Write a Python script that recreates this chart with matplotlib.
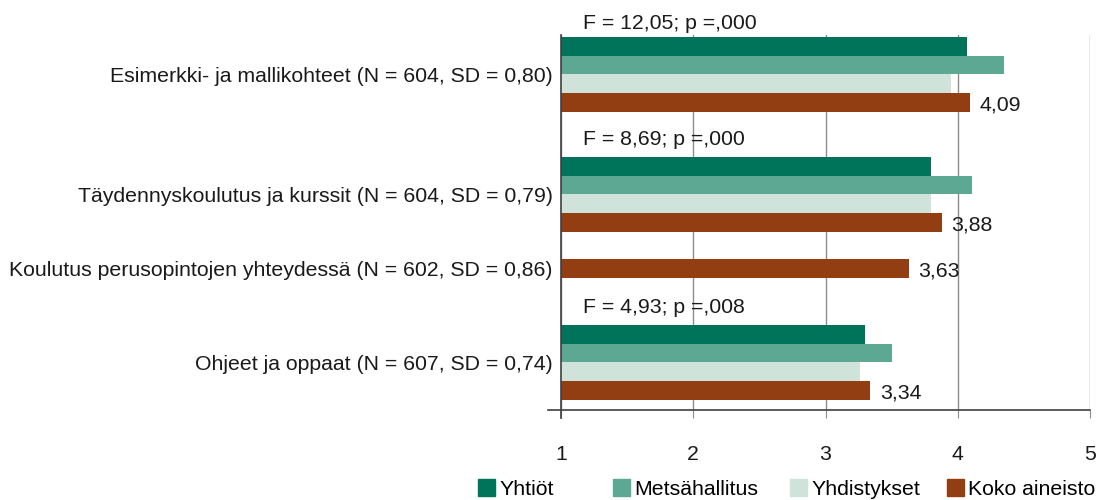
import numpy as np
import matplotlib.pyplot as plt
from matplotlib.lines import Line2D
from matplotlib.patches import Patch

plt.rcParams['font.family'] = ['Liberation Sans', 'DejaVu Sans']
plt.rcParams['font.size'] = 15.3

# data
categories = ["Esimerkki- ja mallikohteet (N = 604, SD = 0,80)",
              "Täydennyskoulutus ja kurssit (N = 604, SD = 0,79)",
              "Koulutus perusopintojen yhteydessä (N = 602, SD = 0,86)",
              "Ohjeet ja oppaat (N = 607, SD = 0,74)"]
yhtiot = [4.07, 3.80, None, 3.30]
metsahallitus = [4.35, 4.11, None, 3.50]
yhdistykset = [3.95, 3.80, None, 3.26]
koko_aineisto = [4.09, 3.88, 3.63, 3.34]
f_tests = ["F = 12,05; p =,000", "F = 8,69; p =,000", None, "F = 4,93; p =,008"]

series_names = ["Yhtiöt", "Metsähallitus", "Yhdistykset", "Koko aineisto"]
series_vals = [yhtiot, metsahallitus, yhdistykset, koko_aineisto]
colors = ["#00745a", "#5ca893", "#cfe3da", "#933e12"]

# layout (y in pixel rows from the top of the figure)
group_top = [37, 157, 203, 325]
f_label_y = [23, 139, None, 307]
bar_h = 18.7
legend_x = [478, 613, 790, 947]

fig = plt.figure(figsize=(11.03, 5), dpi=100)
ax = fig.add_axes([561 / 1103, 90 / 500, 529 / 1103, 375 / 500])
ax.set_xlim(1, 5)
ax.set_ylim(410, 35)

label_y = []
for i, cat in enumerate(categories):
    centers = []
    for s, vals in enumerate(series_vals):
        v = vals[i]
        if v is None:
            continue
        yc = group_top[i] + bar_h * (s + 0.5)
        ax.barh(yc, v, height=bar_h, color=colors[s], zorder=3)
        centers.append(yc)
        if s == 3:
            ax.annotate(f"{v:.2f}".replace('.', ','), xy=(v, yc), xytext=(7, -2),
                        textcoords='offset points', va='center', ha='left',
                        color='#1a1a1a', zorder=4)
    label_y.append(np.mean(centers))
    if f_tests[i]:
        ax.text(1.165, f_label_y[i], f_tests[i], va='center', ha='left',
                color='#1a1a1a', clip_on=False)

ax.set_yticks(label_y)
ax.set_yticklabels(categories, color='#1a1a1a')
ax.tick_params(axis='y', length=0, pad=6)

ax.set_xticks([1, 2, 3, 4, 5])
ax.set_xticklabels(['1', '2', '3', '4', '5'], color='#1a1a1a')
ax.tick_params(axis='x', direction='out', length=6, color='#8c8c8c', pad=19)
ax.grid(axis='x', color='#8c8c8c', lw=1, zorder=0)

for sp in ['top', 'right', 'bottom', 'left']:
    ax.spines[sp].set_visible(False)
# axis lines like the original (bottom line sticks out to the left)
ax.add_line(Line2D([-0.025, 1.0], [0, 0], transform=ax.transAxes, color='#404040',
                   lw=1.2, clip_on=False, zorder=5))
ax.add_line(Line2D([0, 0], [-0.022, 1.0], transform=ax.transAxes, color='#404040',
                   lw=1.2, clip_on=False, zorder=5))

# one legend entry per series, placed like the original
for c, n, lx in zip(colors, series_names, legend_x):
    fig.legend(handles=[Patch(color=c, label=n)], loc='center left',
               bbox_to_anchor=(lx / 1103, 1 - 489 / 500), frameon=False,
               handlelength=0.8, handleheight=0.8, handletextpad=0.2,
               borderpad=0, borderaxespad=0)

plt.savefig("out.png", dpi=100)
